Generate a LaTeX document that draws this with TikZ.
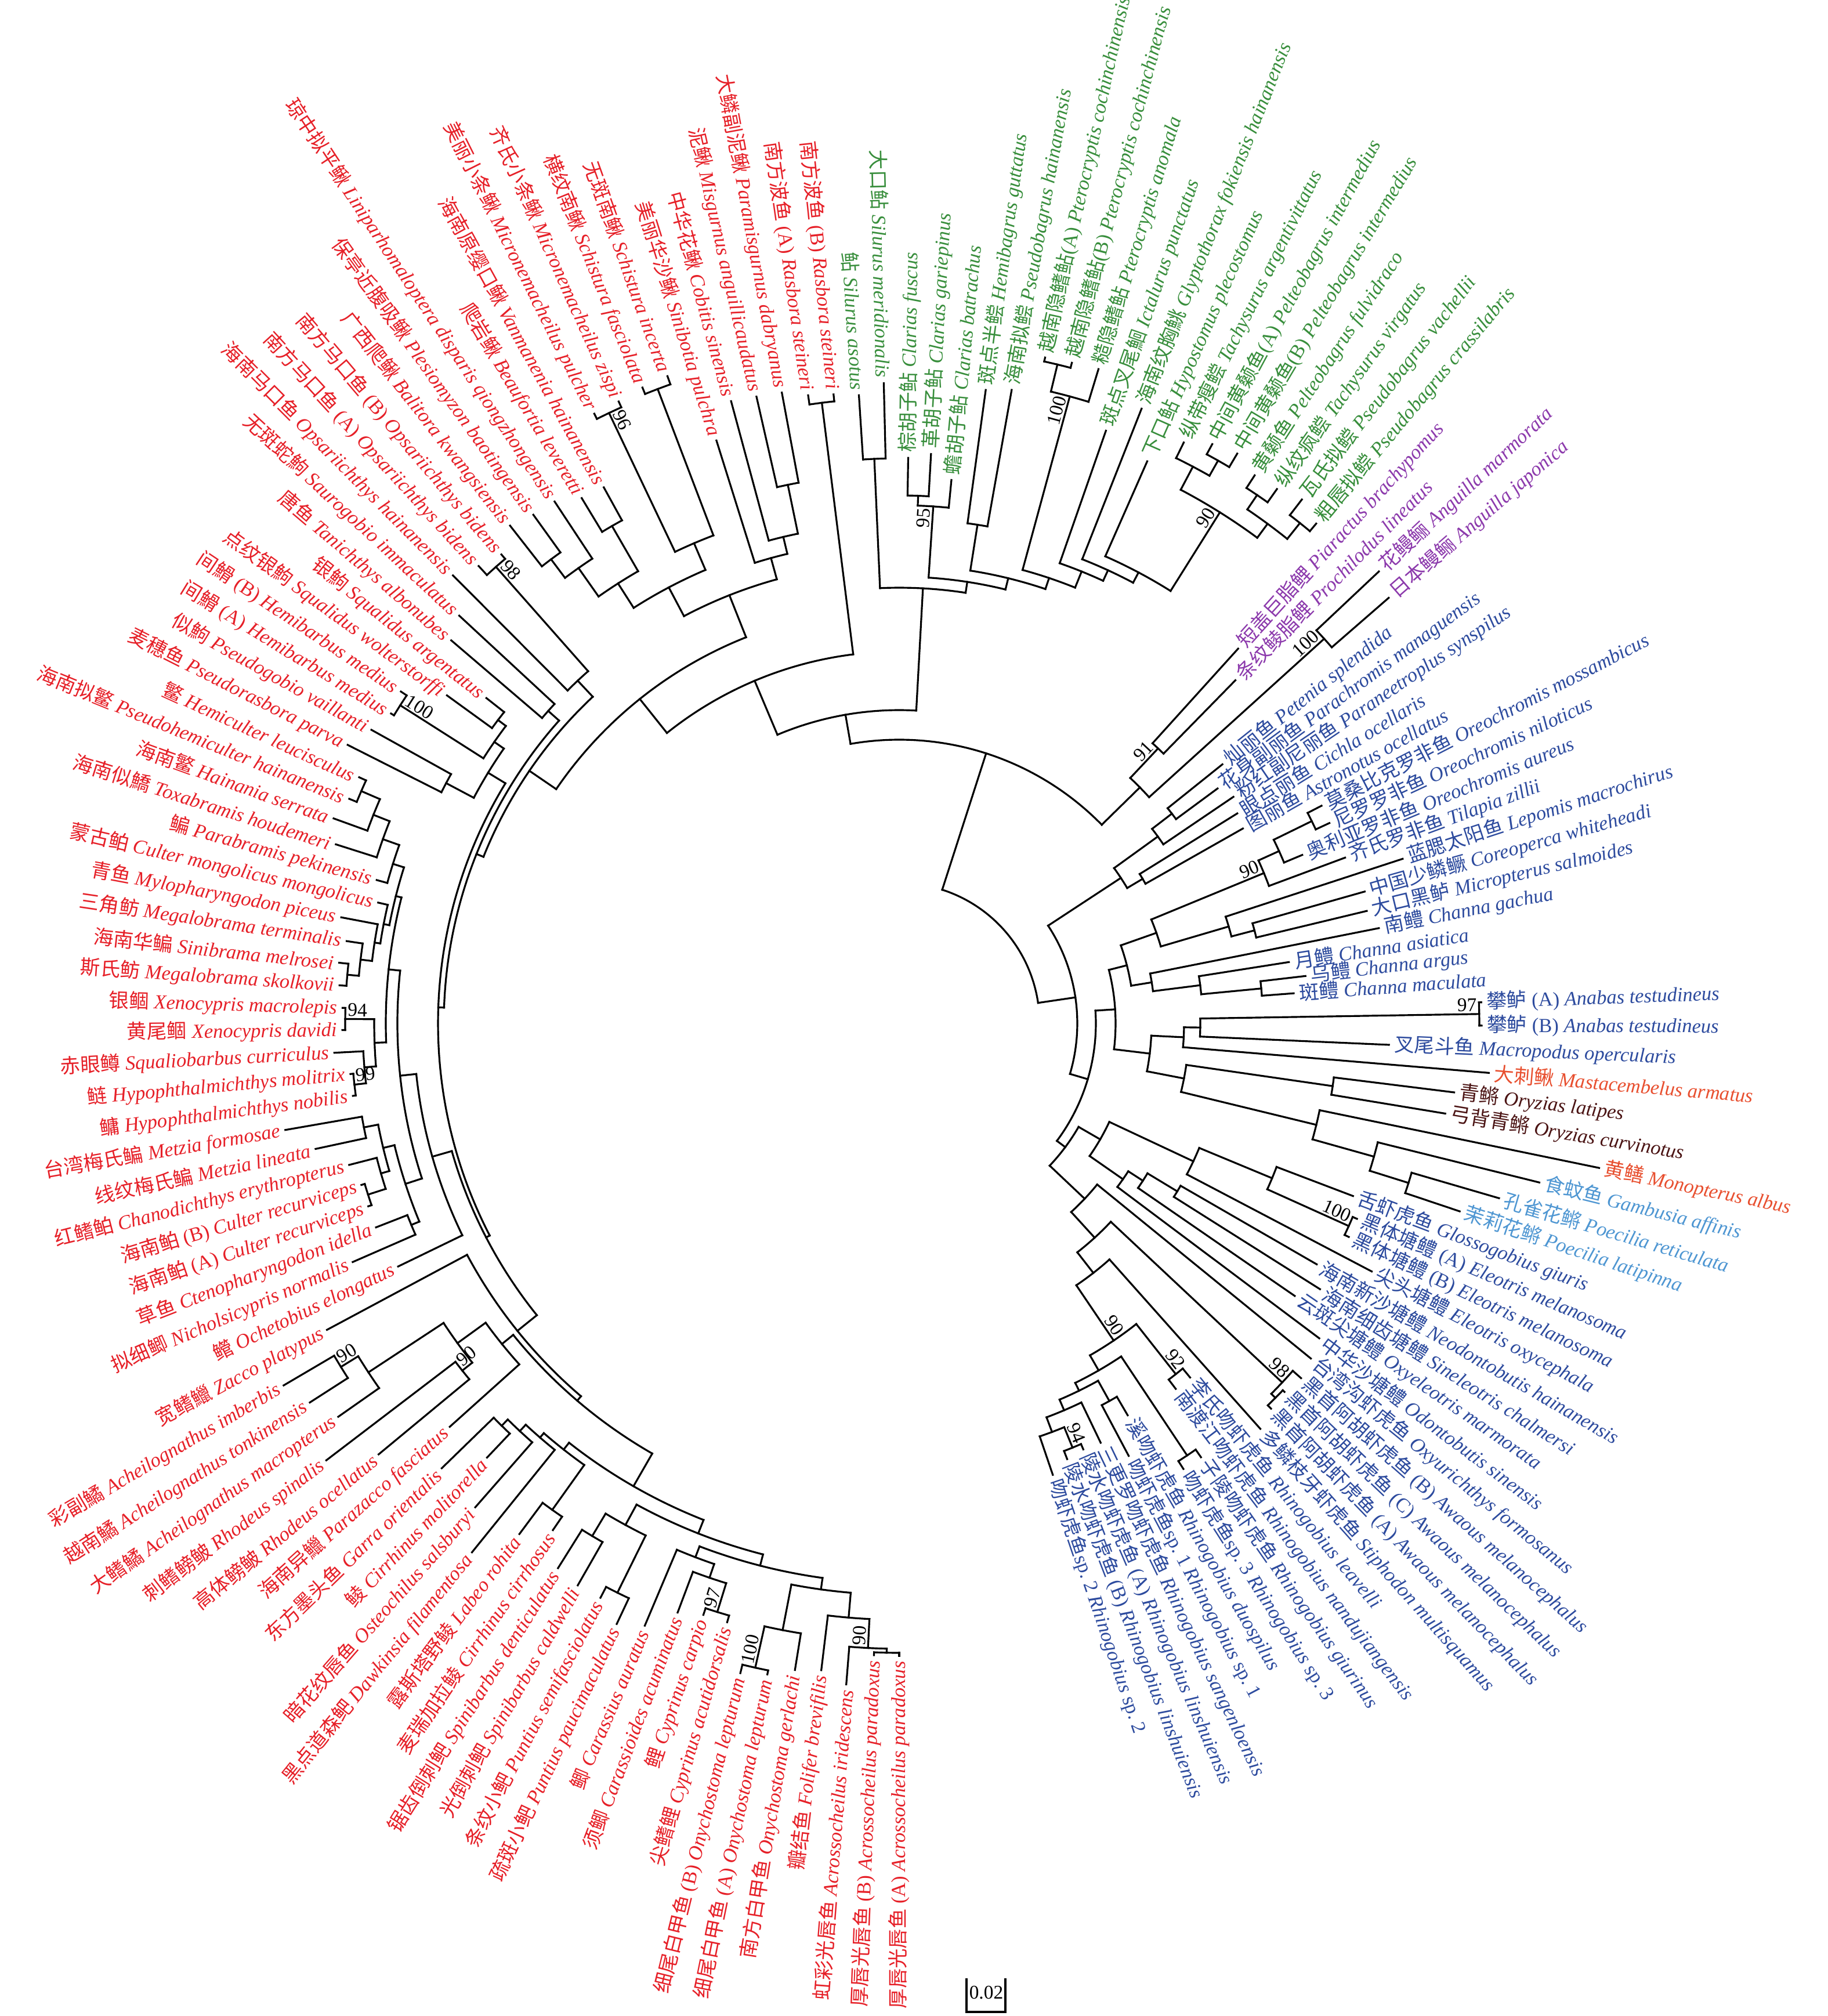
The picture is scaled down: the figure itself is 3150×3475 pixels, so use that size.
\documentclass[tikz,border=0pt]{standalone}
\usepackage{fontspec}
\setmainfont{Liberation Serif}
\newfontfamily\cjk{Noto Sans CJK SC}
\usepackage{tikz}
\definecolor{cypred}{RGB}{230,32,40}
\definecolor{silgreen}{RGB}{56,142,60}
\definecolor{charpurple}{RGB}{140,58,172}
\definecolor{percblue}{RGB}{45,75,158}
\definecolor{spineor}{RGB}{232,80,48}
\definecolor{oryzbrown}{RGB}{75,20,20}
\definecolor{poeblue}{RGB}{78,150,210}
\tikzset{
    branch/.style = {line width=0.9pt, line cap=rect, black},
    tiplab/.style = {inner xsep=2.5pt, inner ysep=0pt, font=\fontsize{9.8}{11}\selectfont},
    bslab/.style = {inner sep=1pt, font=\fontsize{9.5}{11}\selectfont, black}
}
\def\tstep{2.29}
% tip: index, radius, colour, chinese name, tag, latin name
\newcommand{\tx}[6]{%
  \pgfmathsetmacro{\tipA}{-90-\tstep*#1}%
  \expandafter\xdef\csname angt#1\endcsname{\tipA}%
  \coordinate (t#1) at (\tipA:#2);
  \pgfmathtruncatemacro{\tside}{cos(\tipA)>0.01}%
  \ifnum\tside=1
    \node[tiplab,text=#3,rotate=\tipA,anchor=west] at (t#1) {{\cjk #4}#5 \textit{#6}};
  \else
    \pgfmathsetmacro{\tipB}{\tipA+180}%
    \node[tiplab,text=#3,rotate=\tipB,anchor=east] at (t#1) {{\cjk #4}#5 \textit{#6}};
  \fi}
% join: name, child, child, radius
\newcommand{\jn}[4]{%
  \edef\angA{\csname ang#2\endcsname}%
  \edef\angB{\csname ang#3\endcsname}%
  \pgfmathsetmacro{\angM}{(\angA+\angB)/2}%
  \expandafter\xdef\csname ang#1\endcsname{\angM}%
  \coordinate (#1) at (\angM:#4);
  \draw[branch] (\angA:#4) arc[start angle=\angA, end angle=\angB, radius=#4];
  \draw[branch] (\angA:#4) -- (#2);
  \draw[branch] (\angB:#4) -- (#3);}
% bootstrap value at a node
\newcommand{\bs}[2]{%
  \edef\angA{\csname ang#1\endcsname}%
  \pgfmathtruncatemacro{\tside}{cos(\angA)>0.01}%
  \ifnum\tside=1
    \node[bslab,rotate=\angA,anchor=south east] at (#1) {#2};
  \else
    \pgfmathsetmacro{\angB}{\angA+180}%
    \node[bslab,rotate=\angB,anchor=south west] at (#1) {#2};
  \fi}

\begin{document}
\begin{tikzpicture}[x=0.01cm, y=0.01cm]
\useasboundingbox (-1550,-1711) rectangle (1600,1764);

% Cypriniformes
\tx{0}{1090}{cypred}{厚唇光唇鱼}{~(A)}{Acrossocheilus paradoxus}
\tx{1}{1090}{cypred}{厚唇光唇鱼}{~(B)}{Acrossocheilus paradoxus}
\tx{2}{1143}{cypred}{虹彩光唇鱼}{}{Acrossocheilus iridescens}
\tx{3}{1123}{cypred}{瓣结鱼}{}{Folifer brevifilis}
\tx{4}{1129}{cypred}{南方白甲鱼}{}{Onychostoma gerlachi}
\tx{5}{1145}{cypred}{细尾白甲鱼}{~(A)}{Onychostoma lepturum}
\tx{6}{1153}{cypred}{细尾白甲鱼}{~(B)}{Onychostoma lepturum}
\tx{7}{1074}{cypred}{尖鳍鲤}{}{Cyprinus acutidorsalis}
\tx{8}{1074}{cypred}{鲤}{}{Cyprinus carpio}
\tx{9}{1085}{cypred}{须鲫}{}{Carassioides acuminatus}
\tx{10}{1127}{cypred}{鲫}{}{Carassius auratus}
\tx{11}{1144}{cypred}{疏斑小鲃}{}{Puntius paucimaculatus}
\tx{12}{1116}{cypred}{条纹小鲃}{}{Puntius semifasciolatus}
\tx{13}{1116}{cypred}{光倒刺鲃}{}{Spinibarbus caldwelli}
\tx{14}{1108}{cypred}{锯齿倒刺鲃}{}{Spinibarbus denticulatus}
\tx{15}{1058}{cypred}{麦瑞加拉鲮}{}{Cirrhinus cirrhosus}
\tx{16}{1097}{cypred}{露斯塔野鲮}{}{Labeo rohita}
\tx{17}{1172}{cypred}{黑点道森鲃}{}{Dawkinsia filamentosa}
\tx{18}{1109}{cypred}{暗花纹唇鱼}{}{Osteochilus salsburyi}
\tx{19}{1032}{cypred}{鲮}{}{Cirrhinus molitorella}
\tx{20}{1100}{cypred}{东方墨头鱼}{}{Garra orientalis}
\tx{21}{1041}{cypred}{海南异鱲}{}{Parazacco fasciatus}
\tx{22}{1165}{cypred}{高体鳑鲏}{}{Rhodeus ocellatus}
\tx{23}{1242}{cypred}{刺鳍鳑鲏}{}{Rhodeus spinalis}
\tx{24}{1181}{cypred}{大鳍鱊}{}{Acheilognathus macropterus}
\tx{25}{1208}{cypred}{越南鱊}{}{Acheilognathus tonkinensis}
\tx{26}{1231}{cypred}{彩副鱊}{}{Acheilognathus imberbis}
\tx{27}{1119}{cypred}{宽鳍鱲}{}{Zacco platypus}
\tx{28}{960}{cypred}{鳤}{}{Ochetobius elongatus}
\tx{29}{1028}{cypred}{拟细鲫}{}{Nicholsicypris normalis}
\tx{30}{968}{cypred}{草鱼}{}{Ctenopharyngodon idella}
\tx{31}{968}{cypred}{海南鲌}{~(A)}{Culter recurviceps}
\tx{32}{968}{cypred}{海南鲌}{~(B)}{Culter recurviceps}
\tx{33}{979}{cypred}{红鳍鲌}{}{Chanodichthys erythropterus}
\tx{34}{1029}{cypred}{线纹梅氏鳊}{}{Metzia lineata}
\tx{35}{1074}{cypred}{台湾梅氏鳊}{}{Metzia formosae}
\tx{36}{950}{cypred}{鳙}{}{Hypophthalmichthys nobilis}
\tx{37}{950}{cypred}{鲢}{}{Hypophthalmichthys molitrix}
\tx{38}{975}{cypred}{赤眼鳟}{}{Squaliobarbus curriculus}
\tx{39}{960}{cypred}{黄尾鲴}{}{Xenocypris davidi}
\tx{40}{960}{cypred}{银鲴}{}{Xenocypris macrolepis}
\tx{41}{967}{cypred}{斯氏鲂}{}{Megalobrama skolkovii}
\tx{42}{971}{cypred}{海南华鳊}{}{Sinibrama melrosei}
\tx{43}{963}{cypred}{三角鲂}{}{Megalobrama terminalis}
\tx{44}{979}{cypred}{青鱼}{}{Mylopharyngodon piceus}
\tx{45}{922}{cypred}{蒙古鲌}{}{Culter mongolicus mongolicus}
\tx{46}{934}{cypred}{鳊}{}{Parabramis pekinensis}
\tx{47}{1019}{cypred}{海南似鱎}{}{Toxabramis houdemeri}
\tx{48}{1037}{cypred}{海南鳘}{}{Hainania serrata}
\tx{49}{1024}{cypred}{海南拟鳘}{}{Pseudohemiculter hainanensis}
\tx{50}{1023}{cypred}{鳘}{}{Hemiculter leucisculus}
\tx{51}{1065}{cypred}{麦穗鱼}{}{Pseudorasbora parva}
\tx{52}{1041}{cypred}{似鮈}{}{Pseudogobio vaillanti}
\tx{53}{1026}{cypred}{间䱻}{~(A)}{Hemibarbus medius}
\tx{54}{1032}{cypred}{间䱻}{~(B)}{Hemibarbus medius}
\tx{55}{963}{cypred}{点纹银鮈}{}{Squalidus wolterstorffi}
\tx{56}{906}{cypred}{银鮈}{}{Squalidus argentatus}
\tx{57}{1016}{cypred}{唐鱼}{}{Tanichthys albonubes}
\tx{58}{1034}{cypred}{无斑蛇鮈}{}{Saurogobio immaculatus}
\tx{59}{1090}{cypred}{海南马口鱼}{}{Opsariichthys hainanensis}
\tx{60}{1071}{cypred}{南方马口鱼}{~(A)}{Opsariichthys bidens}
\tx{61}{1060}{cypred}{南方马口鱼}{~(B)}{Opsariichthys bidens}
\tx{62}{1089}{cypred}{广西爬鳅}{}{Balitora kwangsiensis}
\tx{63}{1080}{cypred}{保亭近腹吸鳅}{}{Plesiomyzon baotingensis}
\tx{64}{1078}{cypred}{琼中拟平鳅}{}{Liniparhomaloptera disparis qiongzhongensis}
\tx{65}{1058}{cypred}{爬岩鳅}{}{Beaufortia leveretti}
\tx{66}{1055}{cypred}{海南原缨口鳅}{}{Vanmanenia hainanensis}
\tx{67}{1175}{cypred}{美丽小条鳅}{}{Micronemacheilus pulcher}
\tx{68}{1176}{cypred}{齐氏小条鳅}{}{Micronemacheilus zispi}
\tx{69}{1182}{cypred}{横纹南鳅}{}{Schistura fasciolata}
\tx{70}{1185}{cypred}{无斑南鳅}{}{Schistura incerta}
\tx{71}{1053}{cypred}{美丽华沙鳅}{}{Sinibotia pulchra}
\tx{72}{1111}{cypred}{中华花鳅}{}{Cobitis sinensis}
\tx{73}{1108}{cypred}{泥鳅}{}{Misgurnus anguillicaudatus}
\tx{74}{1106}{cypred}{大鳞副泥鳅}{}{Paramisgurnus dabryanus}
\tx{75}{1094}{cypred}{南方波鱼}{~(A)}{Rasbora steineri}
\tx{76}{1090}{cypred}{南方波鱼}{~(B)}{Rasbora steineri}
% Siluriformes
\tx{77}{1085}{silgreen}{鲇}{}{Silurus asotus}
\tx{78}{1104}{silgreen}{大口鲇}{}{Silurus meridionalis}
\tx{79}{975}{silgreen}{棕胡子鲇}{}{Clarias fuscus}
\tx{80}{983}{silgreen}{革胡子鲇}{}{Clarias gariepinus}
\tx{81}{941}{silgreen}{蟾胡子鲇}{}{Clarias batrachus}
\tx{82}{1102}{silgreen}{斑点半鲿}{}{Hemibagrus guttatus}
\tx{83}{1109}{silgreen}{海南拟鲿}{}{Pseudobagrus hainanensis}
\tx{84}{1175}{silgreen}{越南隐鳍鲇}{(A)}{Pterocryptis cochinchinensis}
\tx{85}{1177}{silgreen}{越南隐鳍鲇}{(B)}{Pterocryptis cochinchinensis}
\tx{86}{1179}{silgreen}{糙隐鳍鲇}{}{Pterocryptis anomala}
\tx{87}{1082}{silgreen}{斑点叉尾鮰}{}{Ictalurus punctatus}
\tx{88}{1139}{silgreen}{海南纹胸鮡}{}{Glyptothorax fokiensis hainanensis}
\tx{89}{1059}{silgreen}{下口鲇}{}{Hypostomus plecostomus}
\tx{90}{1115}{silgreen}{纵带瘦鲿}{}{Tachysurus argentivittatus}
\tx{91}{1135}{silgreen}{中间黄颡鱼}{(A)}{Pelteobagrus intermedius}
\tx{92}{1142}{silgreen}{中间黄颡鱼}{(B)}{Pelteobagrus intermedius}
\tx{93}{1126}{silgreen}{黄颡鱼}{}{Pelteobagrus fulvidraco}
\tx{94}{1128}{silgreen}{纵纹疯鲿}{}{Tachysurus virgatus}
\tx{95}{1139}{silgreen}{瓦氏拟鲿}{}{Pseudobagrus vachellii}
\tx{96}{1122}{silgreen}{粗唇拟鲿}{}{Pseudobagrus crassilabris}
% Characiformes, Anguilliformes
\tx{97}{871}{charpurple}{短盖巨脂鲤}{}{Piaractus brachypomus}
\tx{98}{828}{charpurple}{条纹鲮脂鲤}{}{Prochilodus lineatus}
\tx{99}{1136}{charpurple}{花鳗鲡}{}{Anguilla marmorata}
\tx{100}{1118}{charpurple}{日本鳗鲡}{}{Anguilla japonica}
% Acanthopterygii
\tx{101}{714}{percblue}{灿丽鱼}{}{Petenia splendida}
\tx{102}{682}{percblue}{花身副丽鱼}{}{Parachromis managuensis}
\tx{103}{696}{percblue}{粉红副尼丽鱼}{}{Paraneetroplus synspilus}
\tx{104}{686}{percblue}{眼点丽鱼}{}{Cichla ocellaris}
\tx{105}{681}{percblue}{图丽鱼}{}{Astronotus ocellatus}
\tx{106}{819}{percblue}{莫桑比克罗非鱼}{}{Oreochromis mossambicus}
\tx{107}{818}{percblue}{尼罗罗非鱼}{}{Oreochromis niloticus}
\tx{108}{753}{percblue}{奥利亚罗非鱼}{}{Oreochromis aureus}
\tx{109}{820}{percblue}{齐氏罗非鱼}{}{Tilapia zillii}
\tx{110}{913}{percblue}{蓝腮太阳鱼}{}{Lepomis macrochirus}
\tx{111}{834}{percblue}{中国少鳞鳜}{}{Coreoperca whiteheadi}
\tx{112}{829}{percblue}{大口黑鲈}{}{Micropterus salmoides}
\tx{113}{843}{percblue}{南鳢}{}{Channa gachua}
\tx{114}{680}{percblue}{月鳢}{}{Channa asiatica}
\tx{115}{705}{percblue}{乌鳢}{}{Channa argus}
\tx{116}{682}{percblue}{斑鳢}{}{Channa maculata}
\tx{117}{1004}{percblue}{攀鲈}{~(A)}{Anabas testudineus}
\tx{118}{1004}{percblue}{攀鲈}{~(B)}{Anabas testudineus}
\tx{119}{845}{percblue}{叉尾斗鱼}{}{Macropodus opercularis}
\tx{120}{1020}{spineor}{大刺鳅}{}{Mastacembelus armatus}
\tx{121}{964}{oryzbrown}{青鳉}{}{Oryzias latipes}
\tx{122}{954}{oryzbrown}{弓背青鳉}{}{Oryzias curvinotus}
\tx{123}{1232}{spineor}{黄鳝}{}{Monopterus albus}
\tx{124}{1137}{poeblue}{食蚊鱼}{}{Gambusia affinis}
\tx{125}{1077}{poeblue}{孔雀花鳉}{}{Poecilia reticulata}
\tx{126}{1019}{poeblue}{茉莉花鳉}{}{Poecilia latipinna}
\tx{127}{837}{percblue}{舌虾虎鱼}{}{Glossogobius giuris}
\tx{128}{858}{percblue}{黑体塘鳢}{~(A)}{Eleotris melanosoma}
\tx{129}{858}{percblue}{黑体塘鳢}{~(B)}{Eleotris melanosoma}
\tx{130}{920}{percblue}{尖头塘鳢}{}{Eleotris oxycephala}
\tx{131}{831}{percblue}{海南新沙塘鳢}{}{Neodontobutis hainanensis}
\tx{132}{858}{percblue}{海南细齿塘鳢}{}{Sineleotris chalmersi}
\tx{133}{828}{percblue}{云斑尖塘鳢}{}{Oxyeleotris marmorata}
\tx{134}{905}{percblue}{中华沙塘鳢}{}{Odontobutis sinensis}
\tx{135}{915}{percblue}{台湾沟虾虎鱼}{}{Oxyurichthys formosanus}
\tx{136}{924}{percblue}{黑首阿胡虾虎鱼}{~(B)}{Awaous melanocephalus}
\tx{137}{919}{percblue}{黑首阿胡虾虎鱼}{~(C)}{Awaous melanocephalus}
\tx{138}{923}{percblue}{黑首阿胡虾虎鱼}{~(A)}{Awaous melanocephalus}
\tx{139}{936}{percblue}{多鳞枝牙虾虎鱼}{}{Stiphodon multisquamus}
\tx{140}{790}{percblue}{李氏吻虾虎鱼}{}{Rhinogobius leavelli}
\tx{141}{790}{percblue}{南渡江吻虾虎鱼}{}{Rhinogobius nandujiangensis}
\tx{142}{911}{percblue}{子陵吻虾虎鱼}{}{Rhinogobius giurinus}
\tx{143}{911}{percblue}{吻虾虎鱼}{sp.~3}{Rhinogobius \textup{sp.~3}}
\tx{144}{782}{percblue}{溪吻虾虎鱼}{}{Rhinogobius duospilus}
\tx{145}{844}{percblue}{吻虾虎鱼}{sp.~1}{Rhinogobius \textup{sp.~1}}
\tx{146}{802}{percblue}{三更罗吻虾虎鱼}{}{Rhinogobius sangenloensis}
\tx{147}{800}{percblue}{陵水吻虾虎鱼}{~(A)}{Rhinogobius linshuiensis}
\tx{148}{805}{percblue}{陵水吻虾虎鱼}{~(B)}{Rhinogobius linshuiensis}
\tx{149}{822}{percblue}{吻虾虎鱼}{sp.~2}{Rhinogobius \textup{sp.~2}}

% Cyprinidae s.s.
\jn{n01}{t0}{t1}{1085}
\jn{nAcr}{n01}{t2}{1078} \bs{nAcr}{90}
\jn{nA3}{nAcr}{t3}{1028}
\jn{n56}{t5}{t6}{1138} \bs{n56}{100}
\jn{nOny}{t4}{n56}{1065}
\jn{nOA}{nA3}{nOny}{985}
\jn{n78}{t7}{t8}{1062} \bs{n78}{97}
\jn{n9}{n78}{t9}{1010}
\jn{nCyp}{n9}{t10}{985}
\jn{nB1}{nOA}{nCyp}{965}
\jn{n1112}{t11}{t12}{1095}
\jn{n1314}{t13}{t14}{1030}
\jn{nPS}{n1112}{n1314}{985}
\jn{nB2}{nB1}{nPS}{945}
\jn{n1516}{t15}{t16}{1030}
\jn{nLab1}{t19}{t20}{975}
\jn{nLab2}{t18}{nLab1}{960}
\jn{nLab3}{t17}{nLab2}{945}
\jn{nLab4}{n1516}{nLab3}{935}
\jn{nBar}{nB2}{nLab4}{920}
\jn{nAch1}{t25}{t26}{1130} \bs{nAch1}{90}
\jn{nAch2}{t24}{nAch1}{1095}
\jn{nRh}{t22}{t23}{962} \bs{nRh}{90}
\jn{nAch}{nRh}{nAch2}{940}
\jn{nPar}{t21}{nAch}{880}
\jn{L1}{nBar}{nPar}{855}
\jn{L2}{L1}{t27}{845}
% Xenocyprididae
\jn{n2930}{t29}{t30}{910}
\jn{n3132}{t31}{t32}{962}
\jn{n33}{n3132}{t33}{930}
\jn{n3435}{t34}{t35}{940}
\jn{nMC}{n33}{n3435}{915}
\jn{nXC}{n2930}{nMC}{895}
\jn{n3637}{t36}{t37}{945} \bs{n3637}{99}
\jn{n38}{n3637}{t38}{925}
\jn{n3940}{t39}{t40}{955} \bs{n3940}{94}
\jn{nXA}{n38}{n3940}{905}
\jn{n4142}{t41}{t42}{955}
\jn{n43}{n4142}{t43}{935}
\jn{n44}{n43}{t44}{915}
\jn{n45}{n44}{t45}{905}
\jn{n4950}{t49}{t50}{1010}
\jn{n48}{t48}{n4950}{975}
\jn{n47}{t47}{n48}{945}
\jn{n46}{t46}{n47}{915}
\jn{nMeg}{n45}{n46}{895}
\jn{nXB}{nXA}{nMeg}{885}
\jn{nXD}{nXC}{nXB}{865}
\jn{nXeno}{t28}{nXD}{837}
\jn{L3}{L2}{nXeno}{802}
% Gobionidae, Opsariichthys
\jn{n5152}{t51}{t52}{884}
\jn{n5354}{t53}{t54}{1020} \bs{n5354}{100}
\jn{n5556}{t55}{t56}{867}
\jn{nG1}{n5354}{n5556}{850}
\jn{nGob}{n5152}{nG1}{830}
\jn{L4}{L3}{nGob}{795}
\jn{nTS}{t57}{t58}{810}
\jn{L5}{L4}{nTS}{785}
\jn{n6061}{t60}{t61}{1050} \bs{n6061}{98}
\jn{nOps}{t59}{n6061}{810}
\jn{C0}{L5}{nOps}{772}
% loaches
\jn{n6263}{t62}{t63}{1000}
\jn{n64}{n6263}{t64}{960}
\jn{n6566}{t65}{t66}{990}
\jn{nBal}{n64}{n6566}{900}
\jn{n6768}{t67}{t68}{1165} \bs{n6768}{96}
\jn{n6970}{t69}{t70}{1170}
\jn{nNem}{n6768}{n6970}{900}
\jn{nBN}{nBal}{nNem}{850}
\jn{n7374}{t73}{t74}{948}
\jn{n72}{t72}{n7374}{862}
\jn{nCob}{t71}{n72}{832}
\jn{nLoach}{nBN}{nCob}{794}
\jn{Rest1}{C0}{nLoach}{716}
\jn{nRas}{t75}{t76}{1078}
\jn{CypRoot}{Rest1}{nRas}{641}
% Siluriformes
\jn{nSilurus}{t77}{t78}{974}
\jn{n7980}{t79}{t80}{910}
\jn{nClar}{n7980}{t81}{893} \bs{nClar}{95}
\jn{nH}{t82}{t83}{870}
\jn{nPter1}{t84}{t85}{1168}
\jn{nPter}{nPter1}{t86}{1120} \bs{nPter}{100}
\jn{nBag1}{t91}{t92}{1115}
\jn{nBag2}{t90}{nBag1}{1085}
\jn{nBag3}{t93}{t94}{1100}
\jn{nBag4}{t95}{t96}{1105}
\jn{nBag5}{nBag3}{nBag4}{1070}
\jn{nBag}{nBag2}{nBag5}{1040} \bs{nBag}{90}
\jn{nO1}{t89}{nBag}{880}
\jn{nO2}{t88}{nO1}{860}
\jn{nO3}{t87}{nO2}{840}
\jn{nO4}{nPter}{nO3}{810}
\jn{nOther}{nH}{nO4}{790}
\jn{nSilRest}{nClar}{nOther}{770}
\jn{nSil}{nSilurus}{nSilRest}{751}
% Characiformes + eels
\jn{nChar}{t97}{t98}{651} \bs{nChar}{91}
\jn{nEel}{t99}{t100}{988} \bs{nEel}{100}
\jn{P0}{nChar}{nEel}{581}
\jn{C1}{CypRoot}{nSil}{540}
\jn{R1}{C1}{P0}{489}
% cichlids, perches, snakeheads
\jn{n101102}{t101}{t102}{593}
\jn{nNeo}{n101102}{t103}{550}
\jn{n104105}{t104}{t105}{488}
\jn{B1}{nNeo}{n104105}{457}
\jn{n106107}{t106}{t107}{792}
\jn{n108}{n106107}{t108}{719}
\jn{nTil}{n108}{t109}{680} \bs{nTil}{90}
\jn{n111112}{t111}{t112}{633}
\jn{nZ}{t110}{n111112}{592}
\jn{Nd472}{nTil}{nZ}{470}
\jn{nCh1}{t115}{t116}{627}
\jn{nCh2}{t114}{nCh1}{523}
\jn{nCh}{t113}{nCh2}{441}
\jn{Nd405}{Nd472}{nCh}{405}
\jn{n117118}{t117}{t118}{1000} \bs{n117118}{97}
\jn{nAna}{n117118}{t119}{519}
\jn{nAM}{nAna}{t120}{491}
\jn{nOry}{t121}{t122}{755}
\jn{nPoe1}{t125}{t126}{920}
\jn{nPoe}{t124}{nPoe1}{850}
\jn{nMP}{t123}{nPoe}{740}
\jn{nOM}{nOry}{nMP}{500}
\jn{Nd430}{nAM}{nOM}{435}
\jn{B2a}{Nd405}{Nd430}{373}
% gobioids
\jn{nE1}{t128}{t129}{850} \bs{nE1}{100}
\jn{nE2}{t127}{nE1}{696}
\jn{nE3}{nE2}{t130}{560}
\jn{nS1}{t131}{t132}{560}
\jn{nS2}{nS1}{t133}{500}
\jn{nS3}{nS2}{t134}{470}
\jn{nSl}{nE3}{nS3}{400}
\jn{nAw1}{t137}{t138}{915}
\jn{nAw}{t136}{nAw1}{905} \bs{nAw}{98}
\jn{nR1}{t140}{t141}{770} \bs{nR1}{92}
\jn{nR2}{t142}{t143}{895}
\jn{nR3}{t144}{t145}{745}
\jn{nR4}{t147}{t148}{790} \bs{nR4}{94}
\jn{nR5}{nR4}{t149}{752}
\jn{nR6}{t146}{nR5}{725}
\jn{nR7}{nR3}{nR6}{705}
\jn{nR8}{nR2}{nR7}{690}
\jn{nR9}{nR1}{nR8}{660} \bs{nR9}{90}
\jn{nGb1}{t139}{nR9}{545}
\jn{nGb2}{nAw}{nGb1}{500}
\jn{nGb3}{t135}{nGb2}{440}
\jn{nGo}{nSl}{nGb3}{357}
\jn{B2}{B2a}{nGo}{339}
\jn{B0}{B1}{B2}{307}
\jn{root}{R1}{B0}{242}

% scale bar
\coordinate (sbl) at (116,-1704);
\coordinate (sbr) at (183,-1704);
\draw[branch] ([yshift=16]sbl) -- (sbl) -- (sbr) -- ([yshift=16]sbr);
\node[bslab,anchor=south] (sbt) at (150,-1686) {0.02};
\end{tikzpicture}
\end{document}
